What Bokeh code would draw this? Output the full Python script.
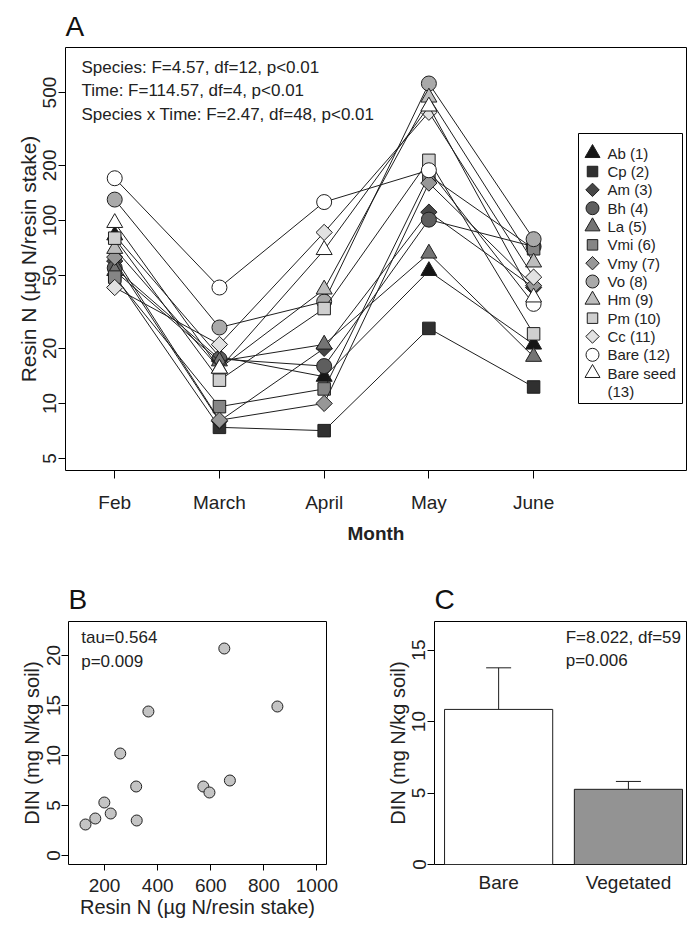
import numpy as np
from bokeh.plotting import figure
from bokeh.layouts import column, row
from bokeh.models import (FixedTicker, NumeralTickFormatter, Label, BoxAnnotation,
                          Range1d, Whisker, TeeHead, ColumnDataSource)
from bokeh.core.properties import value
from bokeh.embed import file_html
from bokeh.resources import INLINE

FONT = "Liberation Sans"

# ---------------- Panel A data ----------------
months = ["Feb", "March", "April", "May", "June"]
species = ["Ab (1)", "Cp (2)", "Am (3)", "Bh (4)", "La (5)", "Vmi (6)", "Vmy (7)",
           "Vo (8)", "Hm (9)", "Pm (10)", "Cc (11)", "Bare (12)", "Bare seed"]
ab = [83, 18, 14, 53, 21]
cp = [50, 7.4, 7.1, 25.7, 12.3]
am = [60, 8.0, 20, 111, 43]
bh = [55, 17.5, 16, 101, 72]
la = [53, 17, 21, 66, 18]
vmi = [49, 9.6, 12, 176, 70]
vmy = [63, 8.1, 10, 160, 44]
vo = [130, 26, 36, 560, 79]
hm = [70, 15.5, 42, 470, 59]
pm = [80, 13.4, 33, 213, 24]
cc = [43, 21, 86, 390, 49]
bare = [170, 43, 126, 188, 35]
bare_seed = [97, 15.5, 69, 420, 38]
series = [ab, cp, am, bh, la, vmi, vmy, vo, hm, pm, cc, bare, bare_seed]
stats_a = ["Species: F=4.57, df=12, p<0.01",
           "Time: F=114.57, df=4, p<0.01",
           "Species x Time: F=2.47, df=48, p<0.01"]
log_ticks = [5, 10, 20, 50, 100, 200, 500]

# ---------------- Panel B data ----------------
resin_n = [128, 165, 199, 223, 259, 319, 321, 365, 572, 595, 651, 672, 851]
din = [3.1, 3.7, 5.3, 4.2, 10.2, 6.9, 3.5, 14.4, 6.9, 6.3, 20.7, 7.5, 14.9]
stats_b = ["tau=0.564", "p=0.009"]

# ---------------- Panel C data ----------------
groups = ["Bare", "Vegetated"]
din_mean = [10.85, 5.26]
din_se = [2.91, 0.55]
stats_c = ["F=8.022, df=59", "p=0.006"]

# styles
markers = ["triangle", "square", "diamond", "circle", "triangle", "square", "diamond",
           "circle", "triangle", "square", "diamond", "circle", "triangle"]
fills = ["#151515", "#303030", "#474747", "#5e5e5e", "#747474", "#858585", "#979797",
         "#a9a9a9", "#bdbdbd", "#cfcfcf", "#e2e2e2", "#ffffff", "#ffffff"]
EDGE = "#1e1e1e"
TXT = "#222222"


def style_axes(p, fs="19px"):
    p.grid.visible = False
    p.outline_line_color = "black"
    p.outline_line_width = 1
    for ax in (p.xaxis, p.yaxis):
        ax.axis_line_color = None
        ax.major_tick_out = 7
        ax.major_tick_in = 0
        ax.minor_tick_out = 0
        ax.minor_tick_in = 0
        ax.major_tick_line_color = "black"
        ax.major_label_text_font = FONT
        ax.major_label_text_font_size = fs
        ax.major_label_text_color = TXT
        ax.axis_label_text_font = FONT
        ax.axis_label_text_font_style = "normal"
        ax.axis_label_text_font_size = "20px"
        ax.axis_label_text_color = TXT
    p.title.text_font = FONT
    p.title.text_font_size = "28px"
    p.title.text_font_style = "normal"
    p.title.align = "left"
    p.title.text_color = "#111111"
    p.title.standoff = 12


# ================= Panel A =================
# frame of panel A in page pixels: left 65, right 686, top 47, bottom 470
A_L, A_R, A_T, A_B = 65, 686, 47, 470
ax0, ax1 = 0.53, 6.46
ay0, ay1 = 4.3, 881
pA = figure(width=690, height=575, x_range=Range1d(ax0, ax1), y_range=Range1d(ay0, ay1),
            y_axis_type="log", output_backend="svg", toolbar_location=None,
            min_border_left=A_L, min_border_right=690 - A_R, min_border_top=A_T,
            min_border_bottom=575 - A_B, title="A")
style_axes(pA)


def fx(px):
    return ax0 + (px - A_L) / (A_R - A_L) * (ax1 - ax0)


def fy(py):
    l0, l1 = np.log10(ay0), np.log10(ay1)
    return float(10 ** (l0 + (A_B - py) / (A_B - A_T) * (l1 - l0)))


xs = list(range(1, len(months) + 1))
pA.xaxis.ticker = FixedTicker(ticks=xs)
pA.xaxis.major_label_overrides = {x: m for x, m in zip(xs, months)}
pA.xaxis.major_tick_out = 8
pA.xaxis.major_label_standoff = 13
pA.xaxis.axis_label = "Month"
pA.xaxis.axis_label_text_font_style = "bold"
pA.xaxis.axis_label_text_font_size = "19px"
pA.xaxis.axis_label_standoff = 7
pA.yaxis.ticker = FixedTicker(ticks=log_ticks)
pA.yaxis.formatter = NumeralTickFormatter(format="0")
pA.yaxis.major_label_orientation = "vertical"
pA.yaxis.major_label_standoff = 2
pA.yaxis.axis_label = "Resin N (\u00b5g N/resin stake)"
pA.yaxis.axis_label_text_font_size = "21px"
pA.yaxis.axis_label_standoff = 1

# legend box (drawn beneath the glyphs)
LEG_L, LEG_R, LEG_T, LEG_B = 578, 682, 133, 403
pA.add_layout(BoxAnnotation(left=fx(LEG_L), right=fx(LEG_R), top=fy(LEG_T), bottom=fy(LEG_B),
                            fill_color="white", fill_alpha=1, line_color="black",
                            line_width=1, line_alpha=1, level="underlay"))

for vals, mk, fc in zip(series, markers, fills):
    pA.line(xs, vals, line_color=EDGE, line_width=1)
    if mk == "diamond":
        pA.scatter(xs, vals, marker="square", angle=np.pi / 4, size=11.5,
                   fill_color=fc, line_color=EDGE, line_width=1)
    elif mk == "circle":
        pA.scatter(xs, vals, marker="circle", size=15, fill_color=fc,
                   line_color=EDGE, line_width=1)
    elif mk == "square":
        pA.scatter(xs, vals, marker="square", size=12.5, fill_color=fc,
                   line_color=EDGE, line_width=1)
    else:
        pA.scatter(xs, vals, marker="triangle", size=16, fill_color=fc,
                   line_color=EDGE, line_width=1)

# legend swatches and labels, laid out in page pixels
row_y = [152.7 + 18.33 * i for i in range(len(species) + 1)]
sw_marker = ["square" if m == "diamond" else m for m in markers]
sw_angle = [np.pi / 4 if m == "diamond" else 0.0 for m in markers]
sw_size = {"triangle": 15, "square": 10.5, "diamond": 9.5, "circle": 13}
sw = ColumnDataSource(dict(x=[fx(592)] * len(species), y=[fy(v) for v in row_y[:len(species)]],
                           marker=sw_marker, angle=sw_angle,
                           size=[sw_size[m] for m in markers], fill=fills))
pA.scatter(x="x", y="y", marker="marker", angle="angle", size="size", fill_color="fill",
           line_color=EDGE, line_width=1, source=sw, level="overlay")
leg_labels = species + ["(13)"]
pA.text(x=[fx(607)] * len(leg_labels), y=[fy(v) for v in row_y], text=leg_labels,
        text_font=value(FONT), text_font_size="15px", text_baseline="middle",
        text_color=TXT, level="overlay")

stat_py = [67, 90, 114]
for txt, py in zip(stats_a, stat_py):
    pA.add_layout(Label(x=fx(81), y=fy(py), text=txt, text_font=FONT, text_font_size="17px",
                        text_baseline="middle", text_color=TXT))

# ================= Panel B =================
pB = figure(width=374, height=351, x_range=Range1d(64, 1036), y_range=Range1d(-0.9, 23.4),
            output_backend="svg", toolbar_location=None,
            min_border_left=68, min_border_right=48, min_border_top=46, min_border_bottom=62,
            title="B")
style_axes(pB)
pB.title.standoff = 13
pB.xaxis.ticker = FixedTicker(ticks=[200, 400, 600, 800, 1000])
pB.yaxis.ticker = FixedTicker(ticks=[0, 5, 10, 15, 20])
pB.yaxis.major_label_orientation = "vertical"
pB.yaxis.major_label_standoff = 2
pB.xaxis.major_tick_out = 6
pB.xaxis.major_label_standoff = 8
pB.xaxis.axis_label = "Resin N (\u00b5g N/resin stake)"
pB.xaxis.axis_label_standoff = 1
pB.yaxis.axis_label = "DIN (mg N/kg soil)"
pB.yaxis.axis_label_standoff = 1
pB.scatter(resin_n, din, marker="circle", size=11, fill_color="#c4c4c4",
           line_color=EDGE, line_width=1)
for txt, yv in zip(stats_b, [21.8, 19.4]):
    pB.add_layout(Label(x=112, y=yv, text=txt, text_font=FONT, text_font_size="17px",
                        text_baseline="middle", text_color=TXT))

# ================= Panel C =================
pC = figure(width=316, height=351, x_range=Range1d(0.107, 2.437), y_range=Range1d(0, 17),
            output_backend="svg", toolbar_location=None,
            min_border_left=60, min_border_right=4, min_border_top=46, min_border_bottom=62,
            title="C")
style_axes(pC)
pC.title.standoff = 13
centers = [0.7 + 1.2 * i for i in range(len(groups))]
src = ColumnDataSource(dict(x=centers, top=din_mean,
                            upper=[m + s for m, s in zip(din_mean, din_se)],
                            fill=["#ffffff", "#939393"]))
pC.vbar(x="x", top="top", bottom=0, width=1.0, fill_color="fill", line_color=EDGE,
        line_width=1, source=src)
pC.add_layout(Whisker(base="x", lower="top", upper="upper", source=src,
                      line_color=EDGE, line_width=1, lower_head=None,
                      upper_head=TeeHead(size=25, line_color=EDGE, line_width=1)))
pC.xaxis.ticker = FixedTicker(ticks=centers)
pC.xaxis.major_label_overrides = {c: g for c, g in zip(centers, groups)}
pC.xaxis.major_tick_out = 0
pC.xaxis.major_label_standoff = 7
pC.yaxis.ticker = FixedTicker(ticks=[0, 5, 10, 15])
pC.yaxis.major_label_orientation = "vertical"
pC.yaxis.major_label_standoff = 2
pC.yaxis.axis_label = "DIN (mg N/kg soil)"
pC.yaxis.axis_label_standoff = 1
for txt, yv in zip(stats_c, [15.9, 14.3]):
    pC.add_layout(Label(x=1.32, y=yv, text=txt, text_font=FONT, text_font_size="17px",
                        text_baseline="middle", text_color=TXT))

layout = column(pA, row(pB, pC, spacing=0), spacing=0)
open("out.html", "w").write(file_html(layout, INLINE))
